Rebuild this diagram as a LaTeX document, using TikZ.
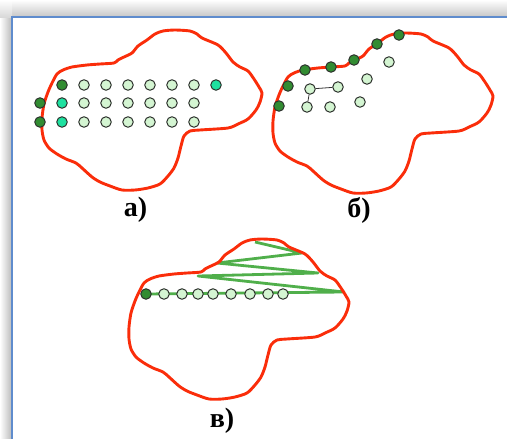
\documentclass[tikz,border=0pt]{standalone}
\usepackage{fontspec}
\setmainfont{Liberation Serif}
\newfontfamily\capfont{Liberation Serif}[BoldFont={Liberation Serif Bold}]
\usetikzlibrary{positioning,backgrounds}
\definecolor{redline}{RGB}{250,45,10}
\definecolor{dkgrn}{RGB}{50,140,50}
\definecolor{ltgrn}{RGB}{212,245,210}
\definecolor{aqua}{RGB}{30,225,160}
\definecolor{zgrn}{RGB}{80,175,75}
\definecolor{frameblue}{RGB}{95,140,205}
\definecolor{rim}{RGB}{45,50,45}
\tikzset{
  dot/.style={circle,draw=rim,line width=1pt,minimum size=10.5pt,inner sep=0pt},
  dotlite/.style={dot,fill=ltgrn},
  dotdark/.style={dot,fill=dkgrn},
  dotaqua/.style={dot,fill=aqua},
  outline/.style={draw=redline,line width=2.9pt,line join=round},
  zig/.style={zgrn,line width=2.8pt,line join=round},
  tie/.style={draw=black!80,line width=0.8pt},
  lbl/.style={font=\capfont\fontsize{28}{28}\selectfont\bfseries,inner sep=0pt},
  blob/.pic={
    \path[outline] plot[smooth cycle,tension=0.45] coordinates{
      (57,74) (63,70) (72,67) (87,65) (100,64) (114,63) (118,60) (124,57)
      (132,53) (138,46) (147,40) (155,34) (163,31) (175,30) (190,31) (197,34)
      (202,38) (218,45) (226,53) (233,62) (240,67) (248,71) (254,79) (259,87)
      (262,93) (260,102) (256,110) (248,119) (238,124) (228,128) (200,130)
      (190,131) (184,136) (181,146) (178,158) (174,168) (168,176) (160,184)
      (148,188) (135,190) (122,190) (110,186) (100,182) (92,177) (82,168)
      (76,163) (66,159) (57,154) (49,148) (44,140) (42,130) (42,118) (44,104)
      (48,92) (52,83)};
  },
}
\begin{document}
\begin{tikzpicture}[x=1pt,y=-1pt]
  \useasboundingbox (0,0) rectangle (507,439);
  % window frame
  \shade[left color=white,right color=gray!55] (0,17) rectangle (12,439);
  \shade[top color=white,bottom color=gray!45] (12,0) rectangle (507,17);
  \shade[top color=white,bottom color=gray!30] (0,0) rectangle (12,17);
  \draw[frameblue,line width=2pt] (12,439) -- (12,17) -- (507,17);

  \pic at (0,0) {blob};
  \pic at (231,3) {blob};
  \pic at (87,209) {blob};

  % a)
  \foreach \k in {1,...,6} {
    \foreach \y/\r in {85/1,103/2,122/3} {
      \node[dotlite] (a\r\k) at ({62+22*\k},\y) {};
    }
  }
  \node[dotdark] (a10) at (62,85) {};
  \node[dotaqua] (a17) at (216,85) {};
  \node[dotaqua] (a20) at (62,103) {};
  \node[dotaqua] (a30) at (62,122) {};
  \node[dotdark] (a2s) at (40,103) {};
  \node[dotdark] (a3s) at (40,122) {};
  \node[lbl] (la) at (135.5,210) {а)};

  % b)
  \foreach \x/\y [count=\i] in {279/106,288/86,305/70,331/67,354/60,377/44,399/35} {
    \node[dotdark] (bd\i) at (\x,\y) {};
  }
  \foreach \x/\y [count=\i] in {310/89,338/87,307/107,330/107,360/102,367/79,389/62} {
    \node[dotlite] (bp\i) at (\x,\y) {};
  }
  \begin{scope}[on background layer]
    \draw[tie] (bp1) -- (bp2);
    \draw[tie] (bp1) -- (bp3);
  \end{scope}
  \node[lbl] (lb) at (359,210) {б)};

  % v)
  \node[dotdark] (c0) at (146,294) {};
  \foreach \x [count=\i] in {164,182,198,213,231,250,268,283} {
    \node[dotlite] (c\i) at (\x,294) {};
  }
  \coordinate (z1) at (344,292);
  \coordinate (z2) at (198,276);
  \coordinate (z3) at (318,273);
  \coordinate (z4) at (217,263);
  \coordinate (z5) at (302,253);
  \coordinate (z6) at (255,242);
  \begin{scope}[on background layer]
    \draw[zig] (c0.center) -- (z1) -- (z2) -- (z3) -- (z4) -- (z5) -- (z6);
  \end{scope}
  \node[lbl] (lc) at (222,421) {в)};
\end{tikzpicture}
\end{document}
